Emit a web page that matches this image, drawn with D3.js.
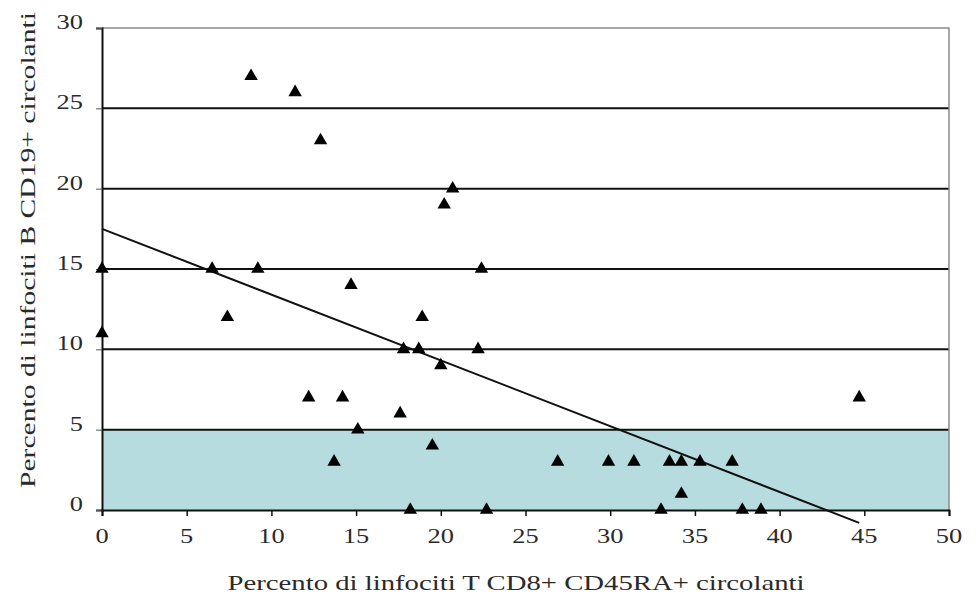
<!DOCTYPE html>
<html>
<head>
<meta charset="utf-8">
<script src="https://cdn.jsdelivr.net/npm/d3@7"></script>
<style>
  html, body { margin: 0; padding: 0; background: #fff; }
  svg { display: block; }
  text { font-family: "Liberation Serif", "Times New Roman", Times, serif; fill: #2a2a2a; }
</style>
</head>
<body>
<svg id="chart" width="978" height="601"></svg>
<script>
// CD8+ CD45RA+ T cells (x) vs CD19+ B cells (y), percent circulating
const xValues = [0, 0, 6.5, 7.4, 8.8, 9.2, 11.4, 12.2, 12.9, 13.7, 14.2, 14.7, 15.1,
  17.6, 17.8, 18.2, 18.7, 18.9, 19.5, 20.0, 20.2, 20.7, 22.2, 22.4, 22.7,
  26.9, 29.9, 31.4, 33.0, 33.5, 34.2, 34.2, 35.3, 37.2, 37.8, 38.9, 44.7];
const yValues = [15, 11, 15, 12, 27, 15, 26, 7, 23, 3, 7, 14, 5,
  6, 10, 0, 10, 12, 4, 9, 19, 20, 10, 15, 0,
  3, 3, 3, 0, 3, 3, 1, 3, 3, 0, 0, 7];

// fitted trend line end points
const trendX = [0, 44.7];
const trendY = [17.5, -0.8];

// reference range band (normal values)
const bandRange = [0, 5];

const xTicks = [0, 5, 10, 15, 20, 25, 30, 35, 40, 45, 50];
const yTicks = [0, 5, 10, 15, 20, 25, 30];

const xTitle = "Percento di linfociti T CD8+ CD45RA+ circolanti";
const yTitle = "Percento di linfociti B CD19+ circolanti";

const FONT = "'Liberation Serif', 'Times New Roman', Times, serif";

const svg = d3.select("#chart");
const x = d3.scaleLinear().domain([0, 50]).range([102, 949]);
const y = d3.scaleLinear().domain([0, 30]).range([510, 28]);

// shaded band
svg.append("rect")
  .attr("x", x(0)).attr("y", y(bandRange[1]))
  .attr("width", x(50) - x(0)).attr("height", y(bandRange[0]) - y(bandRange[1]))
  .attr("fill", "#b7dcdf");

// horizontal gridlines
svg.append("g").selectAll("line")
  .data(yTicks.filter(d => d > 0 && d < 30))
  .join("line")
  .attr("x1", x(0)).attr("x2", x(50))
  .attr("y1", d => y(d)).attr("y2", d => y(d))
  .attr("stroke", "#111").attr("stroke-width", 2);

// plot frame: top and right in grey
svg.append("path")
  .attr("d", `M${x(0)},${y(30)}H${x(50)}V${y(0)}`)
  .attr("fill", "none").attr("stroke", "#8a8a8a").attr("stroke-width", 1.5);

// y axis
const yAxis = svg.append("g").attr("transform", `translate(${x(0)},0)`)
  .call(d3.axisLeft(y).tickValues(yTicks).tickSize(6).tickFormat(""));
yAxis.select(".domain").attr("stroke", "#111").attr("stroke-width", 2);
yAxis.selectAll(".tick line").attr("stroke", "#555").attr("stroke-width", 1);

// x axis
const xAxis = svg.append("g").attr("transform", `translate(0,${y(0)})`)
  .call(d3.axisBottom(x).tickValues(xTicks).tickSize(6).tickFormat(""));
xAxis.select(".domain").attr("stroke", "#111").attr("stroke-width", 2);
xAxis.selectAll(".tick line").attr("stroke", "#111").attr("stroke-width", 1.5);

// tick labels
svg.append("g").selectAll("text")
  .data(yTicks).join("text")
  .attr("transform", d => `translate(83,${y(d) + 1}) scale(1.2,1)`)
  .attr("text-anchor", "end")
  .attr("font-family", FONT)
  .attr("font-size", 22)
  .text(d => d);

svg.append("g").selectAll("text")
  .data(xTicks).join("text")
  .attr("transform", d => `translate(${x(d)},${y(0) + 33}) scale(1.2,1)`)
  .attr("text-anchor", "middle")
  .attr("font-family", FONT)
  .attr("font-size", 22)
  .text(d => d);

// axis titles
svg.append("text")
  .attr("x", 516).attr("y", 590)
  .attr("text-anchor", "middle")
  .attr("font-family", FONT)
  .attr("font-size", 22)
  .attr("textLength", 577).attr("lengthAdjust", "spacingAndGlyphs")
  .text(xTitle);

svg.append("text")
  .attr("transform", `translate(35,250) rotate(-90)`)
  .attr("text-anchor", "middle")
  .attr("font-family", FONT)
  .attr("font-size", 22)
  .attr("textLength", 476).attr("lengthAdjust", "spacingAndGlyphs")
  .text(yTitle);

// trend line
svg.append("line")
  .attr("x1", x(trendX[0])).attr("y1", y(trendY[0]))
  .attr("x2", x(trendX[1])).attr("y2", y(trendY[1]))
  .attr("stroke", "#111").attr("stroke-width", 2);

// data points
const points = xValues.map((v, i) => ({ x: v, y: yValues[i] }));
svg.append("g").selectAll("path")
  .data(points).join("path")
  .attr("d", d3.symbol().type(d3.symbolTriangle).size(78))
  .attr("transform", d => `translate(${x(d.x)},${y(d.y)})`)
  .attr("fill", "#000");
</script>
</body>
</html>
